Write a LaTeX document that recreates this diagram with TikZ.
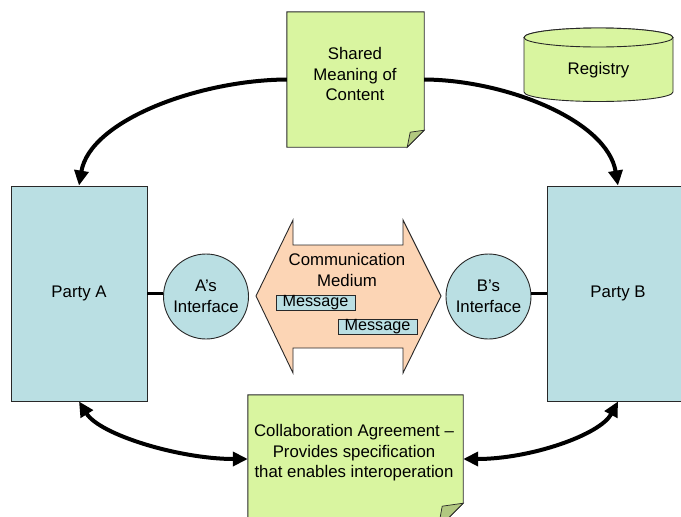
\documentclass[tikz,border=0pt]{standalone}
\usepackage{fontspec}
\setmainfont{Liberation Sans}
\usetikzlibrary{arrows.meta}
\definecolor{partyblue}{RGB}{186,223,227}
\definecolor{notegreen}{RGB}{217,245,160}
\definecolor{foldgreen}{RGB}{178,200,128}
\definecolor{peach}{RGB}{252,213,181}
\definecolor{outline}{RGB}{40,40,40}
\begin{document}
\begin{tikzpicture}[x=1pt,y=-1pt,
  font=\fontsize{16.8}{20.5}\selectfont,
  partybox/.style={draw=outline, line width=0.9pt, fill=partyblue,
    minimum width=136pt, minimum height=215pt, inner sep=0pt},
  iface/.style={circle, draw=outline, line width=0.9pt, fill=partyblue,
    minimum size=85pt, inner sep=0pt, align=center},
  msgbox/.style={draw=outline, line width=0.8pt, fill=partyblue,
    minimum width=79pt, minimum height=14pt, inner sep=0pt,
    font=\fontsize{16.2}{18}\selectfont},
  holder/.style={draw=none, inner sep=0pt},
  txt/.style={align=center, inner sep=0pt},
  shapeline/.style={draw=outline, line width=0.9pt},
  foldline/.style={draw=outline, line width=0.7pt, fill=foldgreen},
  flow/.style={line width=4pt, -{Triangle[length=15pt,width=14pt]}},
  flowboth/.style={line width=4pt,
    {Triangle[length=15pt,width=14pt]}-{Triangle[length=15pt,width=14pt]}},
  link/.style={line width=3pt},
]
\clip (0,0) rectangle (681,517);

% the two parties and their interfaces
\node[partybox] (partyA) at (79,293.5) {Party A};
\node[partybox, minimum width=142pt] (partyB) at (618,293.5) {Party B};
\node[iface] (ifA) at (206,296.5) {A’s\\Interface};
\node[iface] (ifB) at (488.5,296.5) {B’s\\Interface};
\draw[link] (partyA.east) -- (partyA.east -| ifA.west);
\draw[link] (partyB.west) -- (partyB.west -| ifB.east);

% communication medium: a two-headed block arrow
\draw[shapeline, fill=peach] (256,296) -- (293,220) -- (293,245) -- (403,245)
  -- (403,220) -- (441,296) -- (403,373) -- (403,348) -- (293,348)
  -- (293,373) -- cycle;
\node[txt] (medium) at (347,270) {Communication\\Medium};
\node[msgbox] (msg1) at (315.5,303) {Message};
\node[msgbox] (msg2) at (377.5,327) {Message};

% shared meaning note with folded corner
\node[holder, minimum width=137pt, minimum height=135pt] (shared) at (355.5,79.5) {};
\draw[shapeline, fill=notegreen] (shared.north west) -- (shared.north east)
  -- ([yshift=17pt]shared.south east) -- ([xshift=-17pt]shared.south east)
  -- (shared.south west) -- cycle;
\draw[foldline] ([yshift=17pt]shared.south east)
  -- ([xshift=-14pt,yshift=15pt]shared.south east)
  -- ([xshift=-17pt]shared.south east) -- cycle;
\node[txt] (sharedtext) at (355,74) {Shared\\Meaning of\\Content};

% registry cylinder
\draw[shapeline, fill=notegreen] (524,37.5) -- (524,92)
  arc[start angle=180, end angle=360, x radius=74.5pt, y radius=9.5pt]
  -- (673,37.5)
  arc[start angle=0, end angle=180, x radius=74.5pt, y radius=9.5pt] -- cycle;
\draw[shapeline, fill=notegreen] (598.5,37.5) ellipse[x radius=74.5pt, y radius=9.5pt];
\node[txt] (registry) at (598.5,70) {Registry};

% collaboration agreement note
\node[holder, minimum width=215pt, minimum height=133pt] (collab) at (355.5,461.5) {};
\draw[shapeline, fill=notegreen] (collab.north west) -- (collab.north east)
  -- ([yshift=25pt]collab.south east) -- ([xshift=-25pt]collab.south east)
  -- (collab.south west) -- cycle;
\draw[foldline] ([yshift=25pt]collab.south east)
  -- ([xshift=-21pt,yshift=22pt]collab.south east)
  -- ([xshift=-25pt]collab.south east) -- cycle;
\node[txt] (collabtext) at (354,453)
  {Collaboration Agreement –\\Provides specification\\that enables interoperation};

% connectors
\draw[flow] (shared.west) .. controls (200,80) and (90,120) .. (partyA.north);
\draw[flow] (shared.east) .. controls (505,80) and (607,120) .. (partyB.north);
\draw[flowboth] (partyA.south) .. controls (100,435) and (180,459)
  .. ([yshift=2.5pt]collab.west);
\draw[flowboth] (partyB.south) .. controls (600,435) and (530,459)
  .. ([yshift=2.5pt]collab.east);
\end{tikzpicture}
\end{document}
